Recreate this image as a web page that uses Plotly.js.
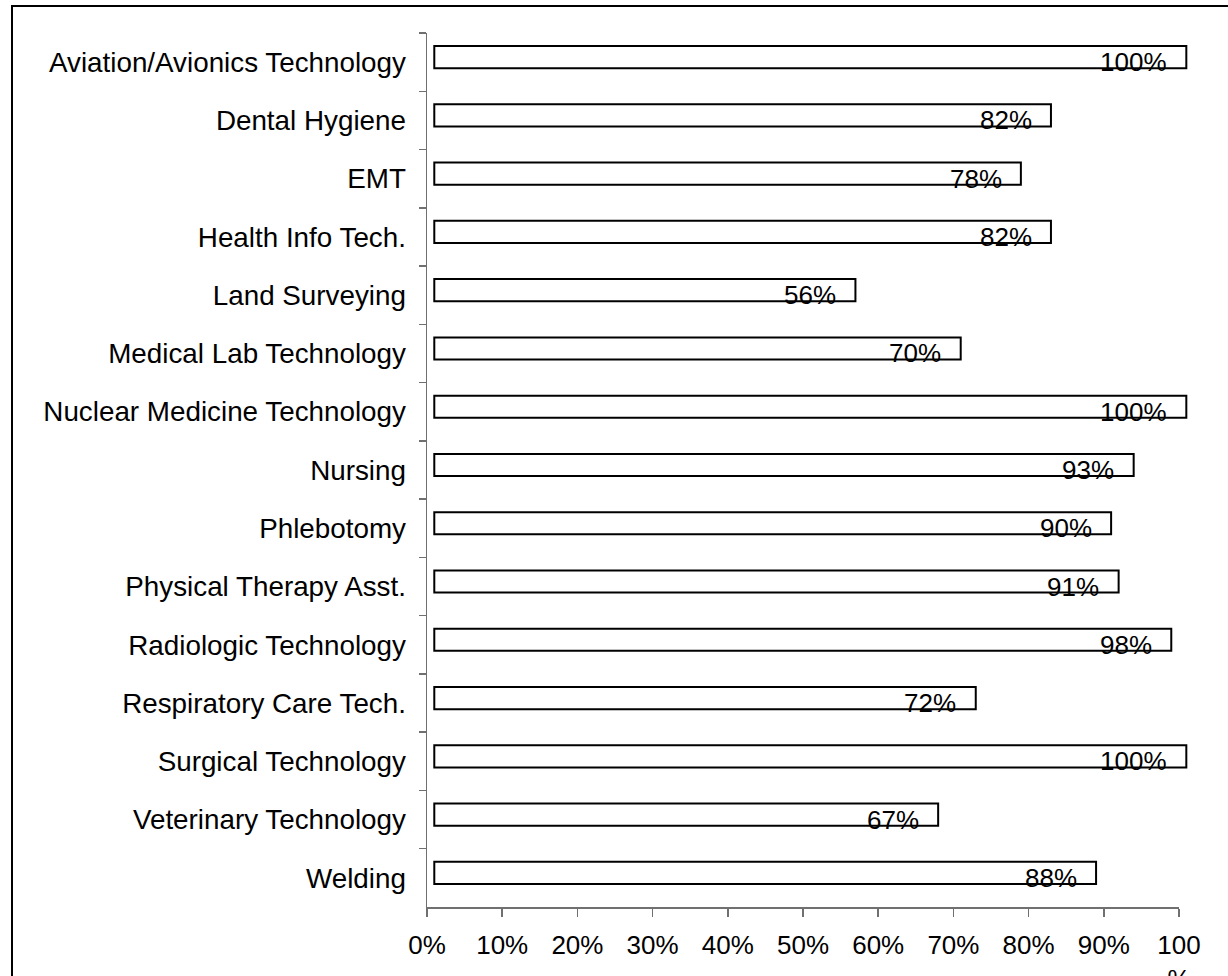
<!DOCTYPE html>
<html>
<head>
<meta charset="utf-8">
<script src="https://cdn.plot.ly/plotly-3.0.1.min.js"></script>
<style>
  html, body { margin: 0; padding: 0; background: #fff; overflow: hidden; }
  #chart { width: 1228px; height: 976px; }
  #frame { position: absolute; left: 11px; top: 5px; width: 2000px; height: 2000px;
           border-left: 2px solid #000; border-top: 2px solid #000; pointer-events: none; }
</style>
</head>
<body>
<div id="chart"></div>
<div id="frame"></div>
<script>
const categories = [
  "Aviation/Avionics Technology", "Dental Hygiene", "EMT", "Health Info Tech.",
  "Land Surveying", "Medical Lab Technology", "Nuclear Medicine Technology",
  "Nursing", "Phlebotomy", "Physical Therapy Asst.", "Radiologic Technology",
  "Respiratory Care Tech.", "Surgical Technology", "Veterinary Technology", "Welding"
];
const values = [100, 82, 78, 82, 56, 70, 100, 93, 90, 91, 98, 72, 100, 67, 88];
const tickValues = [0, 10, 20, 30, 40, 50, 60, 70, 80, 90, 100];
const tickLabels = ["0%", "10%", "20%", "30%", "40%", "50%", "60%", "70%", "80%", "90%", "100<br>%"];

const FONT = "Liberation Sans, Arial, sans-serif";
const FS = 26;

const traces = [
  { // invisible trace that registers the category axis
    type: "scatter", mode: "markers", x: values, y: categories,
    xaxis: "x", yaxis: "y", marker: { opacity: 0 }, hoverinfo: "skip", showlegend: false
  },
  {
    type: "bar", orientation: "h", x: values, y: categories,
    xaxis: "x2", yaxis: "y2", width: 0.38, cliponaxis: false,
    marker: { color: "#ffffff", line: { color: "#000000", width: 2 } },
    showlegend: false, hoverinfo: "x+y"
  }
];

const annotations = values.map((v, i) => ({
  x: v, y: categories[i], xref: "x", yref: "y",
  text: v + "%", showarrow: false, xanchor: "right", yanchor: "middle",
  xshift: -10, font: { family: FONT, size: FS, color: "#000" }
}));

const n = categories.length;
// plot area: 427 .. 1190 px (763 px); visible axis 0..100 spans 427..1179
const layout = {
  width: 1228, height: 976,
  margin: { l: 427, r: 38, t: 33, b: 69 },
  paper_bgcolor: "#ffffff", plot_bgcolor: "#ffffff",
  font: { family: FONT, size: FS, color: "#000" },
  showlegend: false,
  xaxis: {
    domain: [0, 752 / 763], anchor: "y",
    range: [0, 100], tickvals: tickValues, ticktext: tickLabels,
    showgrid: false, zeroline: false, showline: true, linecolor: "#707070", linewidth: 1.5,
    ticks: "outside", ticklen: 8, tickwidth: 1.5, tickcolor: "#707070",
    tickfont: { family: FONT, size: FS, color: "#000" }, ticklabelstandoff: 6
  },
  yaxis: {
    anchor: "x",
    type: "category", categoryorder: "array", categoryarray: categories,
    range: [n - 0.5, -0.5], tickson: "boundaries",
    showgrid: false, zeroline: false, showline: true, linecolor: "#707070", linewidth: 1.5,
    ticks: "outside", ticklen: 7, tickwidth: 1.5, tickcolor: "#707070",
    tickfont: { family: FONT, size: 27.8, color: "#000" }, ticklabelstandoff: 14
  },
  xaxis2: { domain: [0, 1], anchor: "y2", range: [-0.97, 100.49], visible: false },
  yaxis2: {
    domain: [0, 1], anchor: "x2",
    type: "category", categoryorder: "array", categoryarray: categories,
    range: [n - 0.5 + 0.086, -0.5 + 0.086], visible: false
  },
  annotations: annotations
};

Plotly.newPlot("chart", traces, layout, { staticPlot: true, displayModeBar: false });
</script>
</body>
</html>
